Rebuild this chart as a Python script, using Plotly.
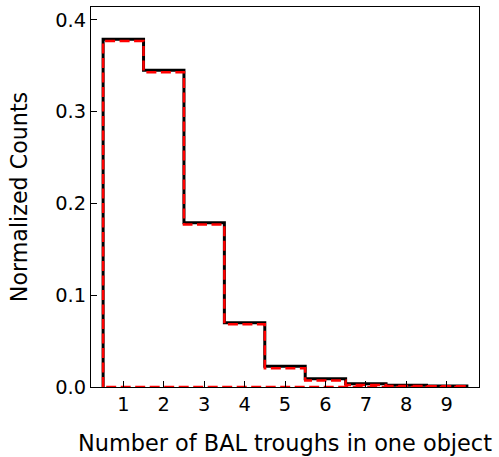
import plotly.graph_objects as go

# Data
bins = [1, 2, 3, 4, 5, 6, 7, 8, 9]
black_vals = [0.379, 0.345, 0.179, 0.070, 0.0225, 0.009, 0.0035, 0.0018, 0.0012]
red_vals = [0.377, 0.343, 0.177, 0.0685, 0.0205, 0.007, 0.0022, 0.0012, 0.0008]
x_ticks = [1, 2, 3, 4, 5, 6, 7, 8, 9]
y_ticks = [0.0, 0.1, 0.2, 0.3, 0.4]


def step_path(centers, vals, closed=False):
    xs, ys = [centers[0] - 0.5], [0.0]
    for c, v in zip(centers, vals):
        xs += [c - 0.5, c + 0.5]
        ys += [v, v]
    xs.append(centers[-1] + 0.5)
    ys.append(0.0)
    if closed:
        xs.append(centers[0] - 0.5)
        ys.append(0.0)
    return xs, ys


fig = go.Figure()
bx, by = step_path(bins, black_vals)
fig.add_trace(go.Scatter(x=bx, y=by, mode="lines",
                         line=dict(color="black", width=3), showlegend=False))
rx, ry = step_path(bins, red_vals, closed=True)
fig.add_trace(go.Scatter(x=rx, y=ry, mode="lines",
                         line=dict(color="red", width=2.5, dash="10px,4.5px"),
                         showlegend=False))

font = dict(family="DejaVu Sans", color="black")
fig.update_layout(
    width=499, height=457,
    margin=dict(l=91, r=20, t=6, b=68),
    plot_bgcolor="white", paper_bgcolor="white",
    font=dict(family="DejaVu Sans", size=19.4, color="black"),
    xaxis=dict(range=[0.2, 9.8], tickvals=x_ticks, ticks="inside", ticklen=6,
               tickwidth=1.3, tickcolor="black", showline=True, linecolor="black",
               linewidth=1.3, mirror=True, showgrid=False, zeroline=False,
               tickfont=dict(size=19.4, **font),
               title=dict(text="Number of BAL troughs in one object",
                          font=dict(size=22.4, **font), standoff=19)),
    yaxis=dict(range=[0, 0.414], tickvals=y_ticks, tickformat=".1f", ticks="inside",
               ticklen=6, tickwidth=1.3, tickcolor="black", showline=True,
               linecolor="black", linewidth=1.3, mirror=True, showgrid=False,
               zeroline=False, tickfont=dict(size=19.4, **font),
               title=dict(text="Normalized Counts", font=dict(size=22.2, **font),
                          standoff=21)),
)
fig.write_html("out.html")
